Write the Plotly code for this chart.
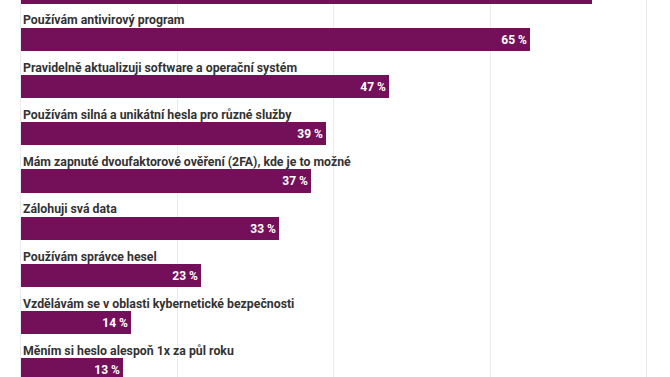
import plotly.graph_objects as go

categories = [
    "",
    "Používám antivirový program",
    "Pravidelně aktualizuji software a operační systém",
    "Používám silná a unikátní hesla pro různé služby",
    "Mám zapnuté dvoufaktorové ověření (2FA), kde je to možné",
    "Zálohuji svá data",
    "Používám správce hesel",
    "Vzdělávám se v oblasti kybernetické bezpečnosti",
    "Měním si heslo alespoň 1x za půl roku",
]
values = [73, 65, 47, 39, 37, 33, 23, 14, 13]
grid_ticks = [0, 20, 40, 60, 80]

positions = list(range(len(categories)))
bar_color = "#74105a"

fig = go.Figure()
fig.add_trace(go.Bar(
    x=values,
    y=positions,
    orientation="h",
    marker=dict(color=bar_color, line=dict(width=0)),
    width=0.49,
    text=[f"{v} %" for v in values],
    textposition="inside",
    insidetextanchor="end",
    textfont=dict(family="Roboto", size=12, color="white", weight="bold"),
    hoverinfo="skip",
    cliponaxis=False,
))

for pos, cat in zip(positions, categories):
    if cat:
        fig.add_annotation(
            x=0, y=pos - 0.40, xref="x", yref="y",
            text=cat, showarrow=False,
            xanchor="left", yanchor="middle",
            font=dict(family="Roboto", size=12.3, color="#333333", weight="bold"),
        )

fig.update_layout(
    width=670, height=377,
    margin=dict(l=0, r=0, t=0, b=0),
    paper_bgcolor="white", plot_bgcolor="white",
    showlegend=False,
    bargap=0,
)
fig.update_xaxes(
    range=[-2.68, 82.94],
    tickvals=grid_ticks, showticklabels=False,
    showgrid=True, gridcolor="#ebebeb", gridwidth=1,
    zeroline=False, showline=False,
)
fig.update_yaxes(
    range=[8.148, 0.169],
    showticklabels=False, showgrid=False, zeroline=False, showline=False,
)

fig.write_html(
    "out.html",
    config={"displayModeBar": False},
    post_script="document.body.style.margin='0';document.body.style.overflow='hidden';",
)
